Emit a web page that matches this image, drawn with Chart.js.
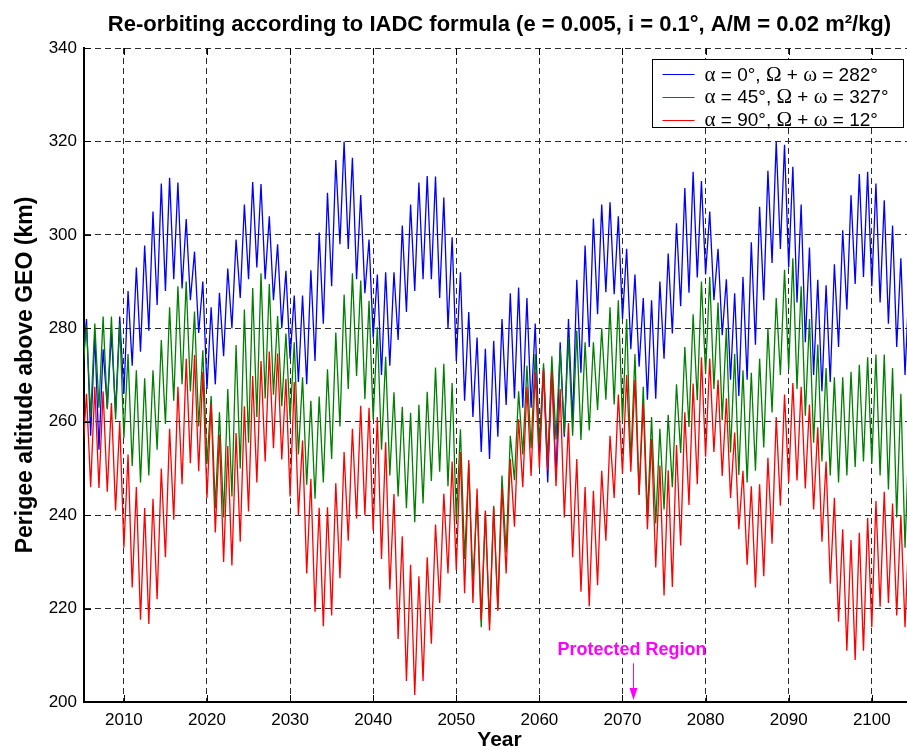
<!DOCTYPE html>
<html>
<head>
<meta charset="utf-8">
<title>Re-orbiting according to IADC formula</title>
<script src="https://cdn.jsdelivr.net/npm/chart.js@4.4.0/dist/chart.umd.min.js"></script>
<style>
  html, body { margin: 0; padding: 0; background: #fff; overflow: hidden; }
  #wrap { width: 907px; height: 749px; overflow: hidden; }
</style>
</head>
<body>
<div id="wrap"><canvas id="myChart" width="915" height="749"></canvas></div>
<script>
// one low sample at the start of each year, one high sample mid-year
var firstYear = 2005;
var yearTicks = [2010, 2020, 2030, 2040, 2050, 2060, 2070, 2080, 2090, 2100];
var altTicks = [200, 220, 240, 260, 280, 300, 320, 340];

// alpha = 0 deg, Omega + omega = 282 deg
var blueLow = [272, 257, 254, 263, 262,
  266, 272, 275, 279.5, 285, 288, 290.5, 288.5, 286, 279,
  267, 268, 274, 280, 286.5, 290.5, 293, 290.5, 286, 280,
  273.5, 268.5, 268, 273, 281, 289, 298, 297, 290.5, 287.5,
  278, 270, 272, 277.5, 283.5, 288, 290.5, 290.5, 286.5, 280,
  273, 264.5, 261, 253.5, 252, 256.8, 263.6, 265, 263, 263,
  253.5, 247, 247.8, 256.8, 260, 270.5, 276, 283, 287.7, 287.3,
  282, 275.5, 271.8, 264.7, 264.9, 273.5, 278.9, 284.7, 287.6, 290.9,
  291.5, 286, 278.5, 269, 265.5, 269, 276.5, 286, 294, 297,
  293, 285.5, 277, 270, 266.5, 268.5, 276, 284, 289.5, 291,
  289, 285.5, 281, 276, 270];
var blueHigh = [282, 278.5, 275.5, 279, 282.5,
  288, 293, 297.7, 305, 311, 312.2, 311.2, 303.4, 296.4, 290,
  284.5, 287.6, 292.8, 299, 306.5, 311.3, 310.9, 304, 298, 292.3,
  287, 287, 292.4, 300.5, 309, 316, 320, 316.5, 308.5, 299,
  291.5, 292, 292, 302, 306.5, 311.2, 312.6, 312.5, 308, 299.5,
  292, 283.5, 278, 275.6, 277.3, 282, 287.5, 288.7, 286.5, 281,
  271.5, 272, 277, 282, 290.4, 297.7, 303.5, 306.5, 307, 304,
  297, 291.5, 286.5, 286, 290, 296, 302.5, 310, 313.5, 311.5,
  305, 297, 290.5, 287.5, 291, 298.4, 306, 313.7, 320, 319.3,
  314.6, 306.5, 297.3, 290.4, 289.2, 293.7, 301, 308.5, 313, 313.5,
  311, 307.4, 302, 295, 290];

// alpha = 45 deg, Omega + omega = 327 deg
var greenLow = [270, 261, 263, 262.7, 260.5,
  256.5, 250.5, 247, 248.5, 254, 259.5, 264.5, 268, 266.5, 259,
  251, 241.5, 239.5, 244, 250, 255.5, 261, 265, 265.8, 263.3,
  260.5, 253, 246.5, 243.5, 247, 252, 259, 267, 269.8, 264.8,
  260.5, 254, 248.5, 244, 241.5, 238.5, 242.5, 247.3, 249.3, 246.2,
  238.8, 230.6, 225.7, 216, 216.7, 220, 232, 247.5, 253, 254.3,
  255.1, 251.4, 256.2, 257.3, 257, 256.1, 258.1, 262.5, 264.7, 263.7,
  260, 251.2, 244.4, 239.6, 238.2, 241.2, 246, 253.3, 258.9, 264.6,
  270.3, 267, 260.3, 253.4, 248.6, 247, 249.5, 254.5, 262, 270,
  271.2, 267, 261.3, 255.5, 251.5, 248.5, 247, 248.5, 250.3, 251.5,
  251, 248.5, 245.5, 239.5, 233];
var greenHigh = [280.6, 281, 282.5, 282.5, 281,
  274.5, 271, 269.3, 271, 277.5, 284.5, 289, 290, 283.6, 275.3,
  265.5, 262, 267, 276.4, 284, 288.6, 291.8, 289.5, 282.6, 278.9,
  277, 269.5, 264.5, 265.4, 271.2, 279.1, 287.2, 291.8, 290.2, 285.9,
  280.2, 273.9, 266.3, 263.2, 261.9, 263.6, 266.4, 271.6, 272.4, 268.3,
  258.4, 251, 243.7, 240.5, 242, 248.5, 257, 266.5, 272, 274.5,
  272.5, 274, 275.6, 278, 279.5, 277, 277, 280, 284.5, 286,
  282, 274.5, 267.5, 261, 258.5, 261.5, 268, 276, 283, 290,
  291, 285.5, 280, 274.5, 271, 270.5, 273.5, 280, 286.5, 292.5,
  295, 289, 282, 276.5, 271.5, 269.5, 269.5, 270.7, 272.2, 273.8,
  274.4, 274.4, 271.5, 266, 258];

// alpha = 90 deg, Omega + omega = 12 deg
var redLow = [252, 246, 245.8, 245, 241,
  233, 224.5, 217.6, 216.7, 222, 231, 239, 246.6, 251.1, 249.4,
  243.7, 236.3, 230, 229.2, 234.3, 240.8, 247, 251.5, 254.3, 251.9,
  244, 240, 227.5, 219.3, 216.2, 218.5, 226.5, 234.5, 239.3, 240,
  236.7, 230.6, 224.1, 213.5, 204.5, 201.5, 204.5, 212.5, 221.2, 227.5,
  228.2, 223.3, 221.2, 217.5, 215.3, 219.5, 227.5, 237.5, 246, 248.4,
  250.1, 249.6, 246.2, 239.5, 231, 223.6, 220.5, 225, 234.5, 243.7,
  249, 249.3, 244.3, 237, 228.8, 222.8, 224.6, 233.5, 242.2, 246.6,
  252.5, 253.5, 248.4, 243.7, 237, 229.4, 224.5, 226.9, 233.9, 242,
  247, 247.4, 245.7, 241.2, 234.3, 225.3, 217.2, 211, 209, 211,
  216, 220.4, 221.2, 218.5, 216];
var redHigh = [266, 267.5, 266.5, 264, 260,
  253, 246, 241.5, 243.5, 250, 258.5, 267.5, 273.5, 274.3, 270.7,
  264, 257.2, 254.8, 257.6, 263.3, 269.8, 273, 275, 274.6, 269.2,
  268.5, 256, 247.8, 241.6, 241.7, 246.8, 253.5, 258.5, 263.4, 263,
  261, 255.6, 244.5, 235.5, 229.4, 226.9, 231, 238, 244.6, 251.5,
  253.5, 251.8, 245.7, 241, 241.7, 245.8, 252, 260.5, 267.5, 270.7,
  271.1, 270.7, 267, 259.7, 252, 246, 245.2, 249.5, 257, 265.8,
  270, 269, 264, 256.3, 250.6, 249.6, 255, 262, 268.2, 273.8,
  273.5, 269, 265, 257.7, 249.5, 246.2, 246.6, 252.3, 261, 265.8,
  268.3, 267.5, 263.7, 258.8, 251.5, 243.7, 237, 234.7, 236.2, 239.4,
  243, 245, 242.5, 240, 238];

var seriesLabels = ['α = 0°, Ω + ω = 282°', 'α = 45°, Ω + ω = 327°', 'α = 90°, Ω + ω = 12°'];
var seriesColors = ['#0000ff', '#008000', '#ff0000'];

var markYear = 2071.3;
var markText = 'Protected Region';

var SANS = "'Liberation Sans', Arial, Helvetica, sans-serif";
var SERIF = "'Liberation Serif', 'Times New Roman', serif";

function toPoints(low, high) {
    var pts = [];
    for (var i = 0; i < low.length; i++) {
        pts.push({ x: firstYear + i, y: low[i] });
        pts.push({ x: firstYear + i + 0.5, y: high[i] });
    }
    return pts;
}

function fixedTicks(values) {
    return function (scale) {
        scale.ticks = values.map(function (v) { return { value: v }; });
    };
}

// draws a label, greek letters in the serif face
function mixedText(ctx, text, x, y) {
    for (var i = 0; i < text.length; i++) {
        var ch = text[i];
        ctx.font = /[\u0391-\u03c9]/.test(ch) ? '21px ' + SERIF : '19px ' + SANS;
        ctx.fillText(ch, x, y);
        x += ctx.measureText(ch).width;
    }
}

var extras = {
    id: 'extras',
    afterDraw: function (chart) {
        var ctx = chart.ctx, area = chart.chartArea;
        var xs = chart.scales.x, ys = chart.scales.y;
        ctx.save();

        // tick marks pointing into the axes
        ctx.strokeStyle = '#000';
        ctx.lineWidth = 1;
        ctx.setLineDash([]);
        ctx.beginPath();
        xs.ticks.forEach(function (t) {
            var px = Math.round(xs.getPixelForValue(t.value)) + 0.5;
            ctx.moveTo(px, area.bottom);
            ctx.lineTo(px, area.bottom - 7);
            ctx.moveTo(px, area.top);
            ctx.lineTo(px, area.top + 7);
        });
        ys.ticks.forEach(function (t) {
            var py = Math.round(ys.getPixelForValue(t.value)) + 0.5;
            ctx.moveTo(area.left, py);
            ctx.lineTo(area.left + 7, py);
        });
        ctx.stroke();

        // legend
        var bx = area.left + 568.5, by = area.top + 11.5;
        ctx.fillStyle = '#fff';
        ctx.fillRect(bx, by, 251, 68);
        ctx.strokeStyle = '#000';
        ctx.strokeRect(bx, by, 251, 68);
        ctx.textBaseline = 'alphabetic';
        ctx.textAlign = 'left';
        chart.data.datasets.forEach(function (ds, i) {
            var ly = by + 15 + i * 23;
            ctx.strokeStyle = ds.borderColor;
            ctx.beginPath();
            ctx.moveTo(bx + 10, ly);
            ctx.lineTo(bx + 42, ly);
            ctx.stroke();
            ctx.fillStyle = '#000';
            mixedText(ctx, ds.label, bx + 52, by + 21 + i * 22.5);
        });

        // protected region marker
        var mx = Math.round(xs.getPixelForValue(markYear)) + 0.5;
        var tip = area.bottom - 2;
        ctx.fillStyle = '#ff00ff';
        ctx.strokeStyle = '#ff00ff';
        ctx.font = 'bold 18px ' + SANS;
        ctx.textAlign = 'center';
        ctx.textBaseline = 'middle';
        ctx.fillText(markText, mx - 1.5, ys.getPixelForValue(211.1));
        ctx.beginPath();
        ctx.moveTo(mx, ys.getPixelForValue(208.3));
        ctx.lineTo(mx, tip - 8);
        ctx.stroke();
        ctx.beginPath();
        ctx.moveTo(mx - 4, tip - 12);
        ctx.lineTo(mx + 4, tip - 12);
        ctx.lineTo(mx, tip);
        ctx.closePath();
        ctx.fill();

        ctx.restore();
    }
};

var lows = [blueLow, greenLow, redLow];
var highs = [blueHigh, greenHigh, redHigh];
var datasets = seriesLabels.map(function (label, i) {
    return {
        label: label,
        data: toPoints(lows[i], highs[i]),
        borderColor: seriesColors[i],
        backgroundColor: 'transparent',
        borderWidth: 1.3,
        pointRadius: 0,
        tension: 0,
        order: 3 - i
    };
});

var context = document.getElementById('myChart');
var graph = new Chart(context, {
    type: 'line',
    data: { datasets: datasets },
    plugins: [extras],
    options: {
        responsive: false,
        animation: false,
        events: [],
        layout: { padding: 0 },
        plugins: {
            legend: { display: false },
            tooltip: { enabled: false },
            title: {
                display: true,
                fullSize: false,
                text: 'Re-orbiting according to IADC formula (e = 0.005, i = 0.1°, A/M = 0.02 m²/kg)',
                color: '#000',
                font: { family: SANS, size: 22, weight: 'bold', lineHeight: 1.2 },
                padding: { top: 12, bottom: 9.6 }
            }
        },
        scales: {
            x: {
                type: 'linear',
                min: 2005.2,
                max: 2105.2,
                afterBuildTicks: fixedTicks(yearTicks),
                afterFit: function (scale) { scale.height = 47; },
                ticks: {
                    autoSkip: false,
                    maxRotation: 0,
                    padding: 8,
                    color: '#000',
                    font: { family: SANS, size: 17 },
                    callback: function (v) { return String(v); }
                },
                grid: { color: '#2a2a2a', lineWidth: 1, drawTicks: false },
                border: { display: true, color: '#000', width: 2, dash: [6, 4] },
                title: {
                    display: true,
                    text: 'Year',
                    color: '#000',
                    font: { family: SANS, size: 21, weight: 'bold', lineHeight: 1 },
                    padding: { top: 0, bottom: -2 }
                }
            },
            y: {
                min: 200,
                max: 340,
                afterBuildTicks: fixedTicks(altTicks),
                afterFit: function (scale) { scale.width = 84; },
                ticks: {
                    padding: 7,
                    color: '#000',
                    font: { family: SANS, size: 17 }
                },
                grid: { color: '#2a2a2a', lineWidth: 1, drawTicks: false },
                border: { display: true, color: '#000', width: 2, dash: [6, 4] },
                title: {
                    display: true,
                    text: 'Perigee altitude above GEO (km)',
                    color: '#000',
                    font: { family: SANS, size: 23, weight: 'bold', lineHeight: 1 },
                    padding: { top: 14.5, bottom: 0 }
                }
            }
        }
    }
});
</script>
</body>
</html>
